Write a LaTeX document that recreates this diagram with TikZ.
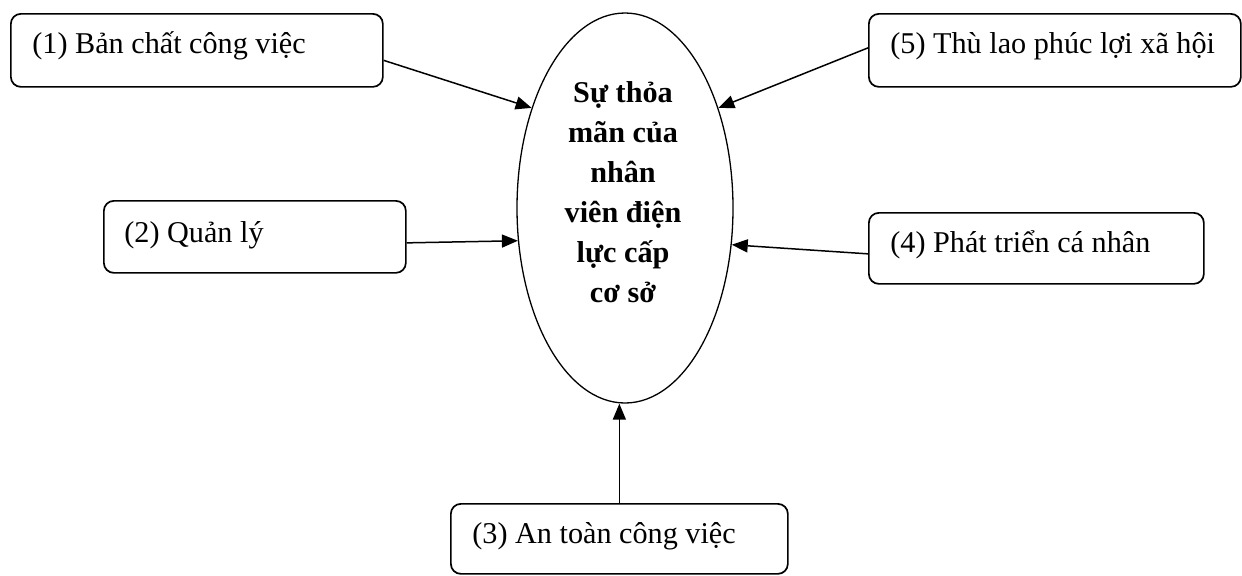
\documentclass[tikz,border=0pt]{standalone}
\usepackage{fontspec}
\setmainfont{Liberation Serif}
\usetikzlibrary{arrows.meta,shapes.geometric}
\tikzset{
  factorbox/.style={draw=black,line width=0.85pt,rounded corners=5pt,anchor=north west,inner sep=0pt},
  factortext/.style={anchor=base west,inner sep=0pt,font=\fontsize{15.1}{20}\selectfont},
  centreoval/.style={draw=black,line width=0.65pt,ellipse,inner sep=0pt,minimum width=108pt,minimum height=195pt},
  centretext/.style={align=center,inner sep=0pt,font=\fontsize{15.1}{20}\selectfont\bfseries},
  link/.style={draw=black,line width=0.75pt,-{Triangle[length=8pt,width=6.5pt]}}
}
\begin{document}
\begin{tikzpicture}[x=0.5pt,y=-0.5pt]
\useasboundingbox (0,0) rectangle (1242,575);
% boxes
\node[factorbox,minimum width=186pt,minimum height=36.5pt] (b1) at (10,13) {};
\node[factortext] (t1) at (32,53) {(1) Bản chất công việc};
\node[factorbox,minimum width=186pt,minimum height=36.5pt] (b5) at (868,13) {};
\node[factortext] (t5) at (890,53) {(5) Thù lao phúc lợi xã hội};
\node[factorbox,minimum width=151pt,minimum height=36pt] (b2) at (103,200) {};
\node[factortext] (t2) at (124,242) {(2) Quản lý};
\node[factorbox,minimum width=167.5pt,minimum height=35.5pt] (b4) at (868,212) {};
\node[factortext] (t4) at (890,252) {(4) Phát triển cá nhân};
\node[factorbox,minimum width=168.5pt,minimum height=35pt] (b3) at (450,503) {};
\node[factortext] (t3) at (472,543) {(3) An toàn công việc};
% ellipse
\node[centreoval] (e) at (625,208) {};
\node[centretext] (et) at (623,192) {Sự thỏa\\mãn của\\nhân\\viên điện\\lực cấp\\cơ sở};
% connectors
\draw[link] ([yshift=-5pt]b1.east) -- (e.133.5);
\draw[link] ([yshift=1.25pt]b5.west) -- (e.47);
\draw[link] ([yshift=-3pt]b2.east) -- (e.197.7);
\draw[link] ([yshift=-2.75pt]b4.west) -- (e.341.8);
\draw[link] (b3.north) -- (b3.north |- e.south);
\end{tikzpicture}
\end{document}
